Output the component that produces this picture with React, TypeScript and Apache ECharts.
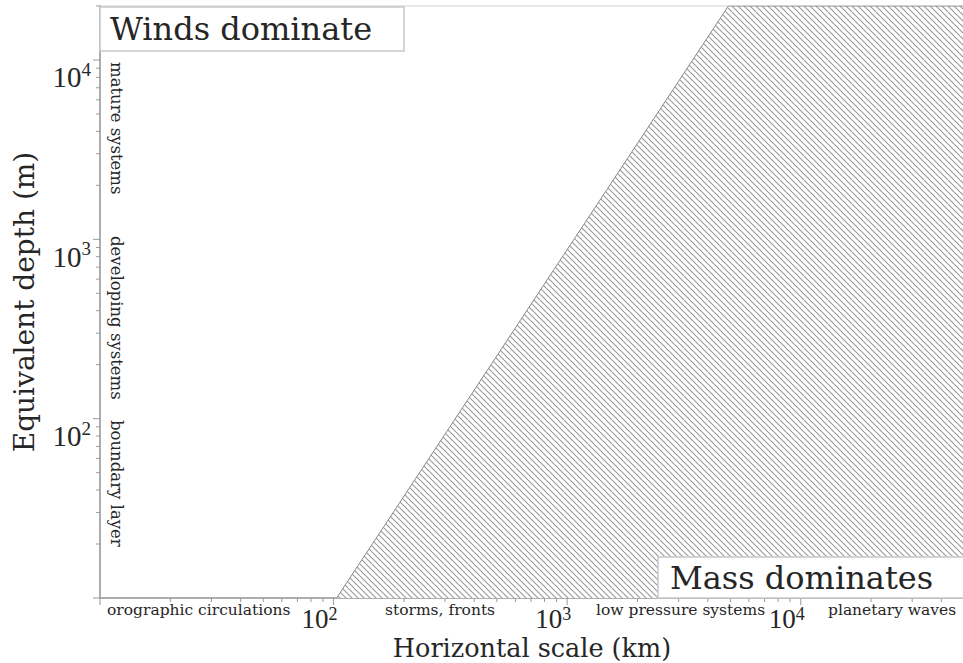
import React, { useEffect, useRef } from 'react';
import * as echarts from 'echarts';

// Boundary of the "mass dominates" regime
const boundaryScaleKm = [103, 4900, 50000];
const boundaryDepthM = [10, 20000, 20000];

// Axis ranges and labelled decades
const xRange = [10, 50000];
const yRange = [10, 20000];
const xLabelDecades = [100, 1000, 10000];
const yLabelDecades = [100, 1000, 10000];
const tickDecades = [10, 100, 1000, 10000];

// Texts
const scaleBands = ['orographic circulations', 'storms, fronts', 'low pressure systems', 'planetary waves'];
const depthBands = ['mature systems', 'developing systems', 'boundary layer'];
const regimeLabels = ['Winds dominate', 'Mass dominates'];
const axisNames = ['Horizontal scale (km)', 'Equivalent depth (m)'];

const SERIF = 'DejaVu Serif';
const NUM = 'Liberation Serif';
const TXT = '#262626';
const AXIS = '#9a9a9a';

function makeHatch(): HTMLCanvasElement {
  const T = 12;
  const c = document.createElement('canvas');
  c.width = T;
  c.height = T;
  const ctx = c.getContext('2d')!;
  ctx.fillStyle = '#ffffff';
  ctx.fillRect(0, 0, T, T);
  ctx.strokeStyle = '#9a9a9a';
  ctx.lineWidth = 1.1;
  for (let k = -3; k <= 3; k++) {
    const off = (k * T) / 2;
    ctx.beginPath();
    ctx.moveTo(off, 0);
    ctx.lineTo(off + T, T);
    ctx.stroke();
  }
  return c;
}

function powLabel(v: number, allowed: number[]): string {
  if (!allowed.some((a) => Math.abs(a - v) / a < 1e-6)) return '';
  const e = Math.round(Math.log10(v));
  return `{b|10}{e|${e}}`;
}

const richY = {
  b: { fontFamily: NUM, fontSize: 29, lineHeight: 32, verticalAlign: 'bottom', color: TXT },
  e: { fontFamily: NUM, fontSize: 19, lineHeight: 19, verticalAlign: 'top', color: TXT },
};
const richX = {
  b: { fontFamily: NUM, fontSize: 27, lineHeight: 27, verticalAlign: 'bottom', color: TXT },
  e: { fontFamily: NUM, fontSize: 18, lineHeight: 18, verticalAlign: 'top', color: TXT },
};

export default function App() {
  const ref = useRef<HTMLDivElement>(null);

  useEffect(() => {
    if (!ref.current) return;
    const chart = echarts.init(ref.current, null, { renderer: 'svg' });

    // tick marks (kind: 0 x major, 1 x minor, 2 y major, 3 y minor)
    const tickData: number[][] = [];
    tickDecades.forEach((d) => {
      for (let m = 1; m <= 9; m++) {
        const v = d * m;
        if (v >= xRange[0] && v <= xRange[1]) tickData.push([v, yRange[0], m === 1 ? 0 : 1]);
        if (v >= yRange[0] && v <= yRange[1]) tickData.push([xRange[0], v, m === 1 ? 2 : 3]);
      }
    });

    const boundary = boundaryScaleKm.map((x, i) => [x, boundaryDepthM[i]]);

    const small = (text: string, x: number, y: number, size: number, rot = 0) => ({
      type: 'text',
      x,
      y,
      rotation: rot,
      z: 100,
      style: { text, font: `${size}px "${SERIF}"`, fill: TXT, verticalAlign: 'middle', align: 'left' },
    });

    const option: any = {
      animation: false,
      grid: {
        left: 100,
        right: -1,
        top: 6,
        bottom: 65,
        show: true,
        borderColor: '#cfcfcf',
        borderWidth: 1,
        outerBoundsMode: 'none',
        containLabel: false,
      },
      xAxis: {
        type: 'log',
        logBase: 10,
        min: xRange[0],
        max: xRange[1],
        name: axisNames[0],
        nameLocation: 'middle',
        nameGap: 39,
        nameMoveOverlap: false,
        nameTextStyle: { fontFamily: SERIF, fontSize: 25.5, lineHeight: 22, color: TXT },
        axisLine: { show: true, lineStyle: { color: AXIS, width: 1.5 } },
        axisTick: { show: false },
        splitLine: { show: false },
        axisLabel: {
          formatter: (v: number) => powLabel(v, xLabelDecades),
          rich: richX,
          align: 'right',
          verticalAlign: 'top',
          padding: [0, -4, 0, 0],
          margin: 7,
          showMinLabel: false,
          showMaxLabel: false,
        },
      },
      yAxis: {
        type: 'log',
        logBase: 10,
        min: yRange[0],
        max: yRange[1],
        name: axisNames[1],
        nameLocation: 'middle',
        nameGap: 62,
        nameRotate: 90,
        nameMoveOverlap: false,
        nameTextStyle: { fontFamily: SERIF, fontSize: 28, color: TXT },
        axisLine: { show: true, lineStyle: { color: AXIS, width: 1.5 } },
        axisTick: { show: false },
        splitLine: { show: false },
        axisLabel: {
          formatter: (v: number) => powLabel(v, yLabelDecades),
          rich: richY,
          align: 'right',
          verticalAlign: 'top',
          margin: 9,
          showMinLabel: false,
          showMaxLabel: false,
        },
      },
      series: [
        {
          type: 'line',
          data: boundary,
          symbol: 'none',
          lineStyle: { color: '#8a8a8a', width: 1 },
          areaStyle: { origin: 'start', color: { image: makeHatch(), repeat: 'repeat' }, opacity: 1 },
          z: 2,
        },
        {
          type: 'custom',
          data: tickData,
          encode: { x: 0, y: 1 },
          clip: false,
          silent: true,
          z: 5,
          renderItem: (params: any, api: any) => {
            const kind = api.value(2);
            const p = api.coord([api.value(0), api.value(1)]);
            const major = kind === 0 || kind === 2;
            const len = major ? 7 : 4;
            const shape =
              kind < 2
                ? { x1: p[0], y1: p[1], x2: p[0], y2: p[1] + len }
                : { x1: p[0] - len, y1: p[1], x2: p[0], y2: p[1] };
            return { type: 'line', shape, style: { stroke: AXIS, lineWidth: 1 } };
          },
        },
      ],
      graphic: [
        { type: 'rect', z: 100, shape: { x: 100, y: 7, width: 304, height: 44 }, style: { fill: '#fff', stroke: '#c8c8c8', lineWidth: 1.5 } },
        { type: 'text', z: 101, x: 110, y: 29, style: { text: regimeLabels[0], font: `32px "${SERIF}"`, fill: TXT, verticalAlign: 'middle', align: 'left' } },
        { type: 'rect', z: 100, shape: { x: 658, y: 557, width: 310, height: 41 }, style: { fill: '#fff', stroke: '#c8c8c8', lineWidth: 1.5 } },
        { type: 'text', z: 101, x: 670, y: 578, style: { text: regimeLabels[1], font: `32px "${SERIF}"`, fill: TXT, verticalAlign: 'middle', align: 'left' } },
        small(scaleBands[0], 107, 610, 15.5),
        small(scaleBands[1], 385, 610, 15.5),
        small(scaleBands[2], 596, 610, 15.5),
        small(scaleBands[3], 828, 610, 15.5),
        small(depthBands[0], 116, 62, 16.5, -Math.PI / 2),
        small(depthBands[1], 116, 236, 16.5, -Math.PI / 2),
        small(depthBands[2], 116, 420, 16.5, -Math.PI / 2),
      ],
    };

    chart.setOption(option);
    return () => chart.dispose();
  }, []);

  return (
    <div
      ref={ref}
      style={{ position: 'fixed', left: 0, top: 0, width: 963, height: 663, background: '#fff' }}
    />
  );
}
